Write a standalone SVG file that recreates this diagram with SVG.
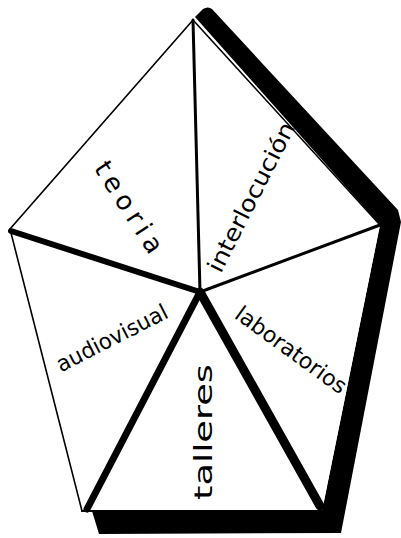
<svg xmlns="http://www.w3.org/2000/svg" width="401" height="538" viewBox="0 0 401 538">
<style>
.lbl{font-family:"DejaVu Sans","Liberation Sans",sans-serif;font-size:22px;fill:#000;text-anchor:middle;dominant-baseline:central}
.thin{stroke:#000;stroke-width:1.6;fill:none;stroke-linecap:round}
.edge{stroke:#000;fill:none;stroke-linecap:round;stroke-linejoin:round}
</style>
<rect width="401" height="538" fill="#fff"/>
<!-- heavy shadow along right and bottom -->
<path d="M195,17 L203,9 Q208,6 212,9 L398,210 L401,222 L341,533 L99,534 L92,511 L322,511 L380,225 Z" fill="#000"/>
<g id="teoria">
<polygon points="193,20 10,229 200,292" fill="#fff"/>
<text class="lbl" transform="translate(129,207) rotate(57)" textLength="104" lengthAdjust="spacing" style="font-size:26px">teoria</text>
</g>
<g id="interlocucion">
<polygon points="193,20 380,225 200,292" fill="#fff"/>
<text class="lbl" transform="translate(251,197) rotate(-63)" textLength="165" lengthAdjust="spacingAndGlyphs" style="font-size:23px">interlocución</text>
</g>
<g id="audiovisual">
<polygon points="10,229 82,511 200,292" fill="#fff"/>
<text class="lbl" transform="translate(112,338) rotate(-27)" textLength="122" lengthAdjust="spacingAndGlyphs">audiovisual</text>
</g>
<g id="talleres">
<polygon points="82,511 322,511 200,292" fill="#fff"/>
<text class="lbl" transform="translate(204,432) rotate(-90)" textLength="136" lengthAdjust="spacingAndGlyphs" style="font-size:24px">talleres</text>
</g>
<g id="laboratorios">
<polygon points="380,225 322,511 200,292" fill="#fff"/>
<text class="lbl" transform="translate(291,350) rotate(36)" textLength="132" lengthAdjust="spacingAndGlyphs">laboratorios</text>
</g>
<g id="connectors">
<path class="thin" d="M193,20 L10,229 L82,511"/>
<path class="thin" d="M193,20 L380,225"/>
<line class="edge" x1="82" y1="511" x2="322" y2="511" stroke-width="2"/>
<line class="edge" x1="193" y1="20" x2="200" y2="292" stroke-width="3"/>
<line class="edge" x1="200" y1="292" x2="380" y2="225" stroke-width="3"/>
<line class="edge" x1="11" y1="231" x2="200" y2="292" stroke-width="6"/>
<line class="edge" x1="200" y1="292" x2="87" y2="509" stroke-width="7"/>
<line class="edge" x1="200" y1="292" x2="320" y2="506" stroke-width="9"/>
</g>
</svg>
